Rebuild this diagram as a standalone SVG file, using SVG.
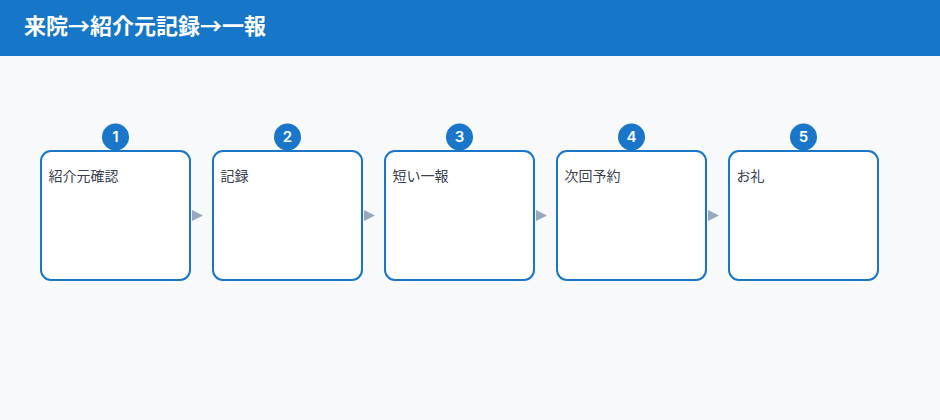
<svg xmlns="http://www.w3.org/2000/svg" width="940" height="420" viewBox="0 0 940 420">
<style>
.title{font-family:"Noto Sans CJK JP","Noto Sans",sans-serif;font-size:22px;font-weight:bold;fill:#ffffff}
.box{fill:#ffffff;stroke:#1976c9;stroke-width:2}
.badge{fill:#1976c9}
.num{font-family:Inter,"Noto Sans",sans-serif;font-size:15px;font-weight:600;fill:#ffffff;text-anchor:middle}
.lbl{font-family:"Noto Sans CJK JP","Noto Sans",sans-serif;font-size:14px;fill:#3a414d}
.arr{fill:#9aa8bd}
</style>
<rect x="0" y="0" width="940" height="420" fill="#f8f9fb"/>
<rect x="0" y="0" width="940" height="56" fill="#1677c9"/>
<text class="title" x="24" y="34">来院→紹介元記録→一報</text>
<g id="connectors">
<polygon class="arr" points="192,210 203,215.5 192,221"/>
<polygon class="arr" points="364,210 375,215.5 364,221"/>
<polygon class="arr" points="536,210 547,215.5 536,221"/>
<polygon class="arr" points="708,210 719,215.5 708,221"/>
</g>
<g id="node1">
<rect class="box" x="41" y="151" width="149" height="129" rx="10"/>
<circle class="badge" cx="115.5" cy="137" r="13.5"/>
<text class="num" x="115.5" y="142">1</text>
<text class="lbl" x="48.5" y="181">紹介元確認</text>
</g>
<g id="node2">
<rect class="box" x="213" y="151" width="149" height="129" rx="10"/>
<circle class="badge" cx="287.5" cy="137" r="13.5"/>
<text class="num" x="287.5" y="142">2</text>
<text class="lbl" x="220.5" y="181">記録</text>
</g>
<g id="node3">
<rect class="box" x="385" y="151" width="149" height="129" rx="10"/>
<circle class="badge" cx="459.5" cy="137" r="13.5"/>
<text class="num" x="459.5" y="142">3</text>
<text class="lbl" x="392.5" y="181">短い一報</text>
</g>
<g id="node4">
<rect class="box" x="557" y="151" width="149" height="129" rx="10"/>
<circle class="badge" cx="631.5" cy="137" r="13.5"/>
<text class="num" x="631.5" y="142">4</text>
<text class="lbl" x="564.5" y="181">次回予約</text>
</g>
<g id="node5">
<rect class="box" x="729" y="151" width="149" height="129" rx="10"/>
<circle class="badge" cx="803.5" cy="137" r="13.5"/>
<text class="num" x="803.5" y="142">5</text>
<text class="lbl" x="736.5" y="181">お礼</text>
</g>
</svg>
